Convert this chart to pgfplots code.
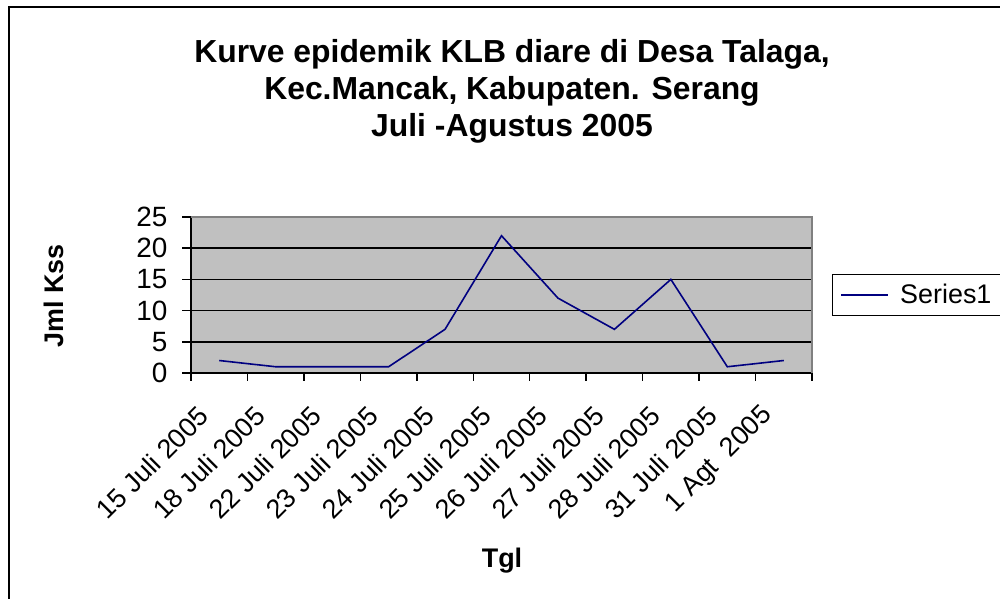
\documentclass[border=0pt]{standalone}
\usepackage{fontspec}
\setmainfont{Liberation Sans}
\usepackage{pgfplots}
\pgfplotsset{compat=1.18}
\definecolor{plotbg}{HTML}{C0C0C0}
\definecolor{navyline}{HTML}{000080}
\definecolor{bordergray}{HTML}{808080}
\begin{document}
\begin{tikzpicture}
\useasboundingbox (0,0) rectangle (1000bp,599bp);
\clip (0,0) rectangle (1000bp,599bp);
\fill[white] (0,0) rectangle (1000bp,599bp);
\draw[line width=2bp] (9bp,-5bp) -- (9bp,592bp) -- (1010bp,592bp);
\node[anchor=base, font=\fontsize{32}{32}\selectfont\bfseries, inner sep=0pt] at (512bp,536bp) {Kurve epidemik KLB diare di Desa Talaga,};
\node[anchor=base, font=\fontsize{32}{32}\selectfont\bfseries, inner sep=0pt] at (512bp,499bp) {Kec.Mancak, Kabupaten. Serang};
\node[anchor=base, font=\fontsize{32}{32}\selectfont\bfseries, inner sep=0pt] at (512bp,462bp) {Juli -Agustus 2005};
\node[anchor=base, rotate=90, font=\fontsize{27}{27}\selectfont\bfseries, inner sep=0pt] at (63bp,303bp) {Jml Kss};
\node[anchor=base, font=\fontsize{27}{27}\selectfont\bfseries, inner sep=0pt] at (502bp,32bp) {Tgl};
\begin{axis}[
  at={(191bp,226bp)}, anchor=south west,
  scale only axis, width=621bp, height=156bp,
  xmin=0, xmax=11, ymin=0, ymax=25,
  xtick={0.5,1.5,...,10.5},
  xticklabels={15 Juli 2005,18 Juli 2005,22 Juli 2005,23 Juli 2005,24 Juli 2005,25 Juli 2005,26 Juli 2005,27 Juli 2005,28 Juli 2005,31 Juli 2005,1 Agt\ \ 2005},
  minor xtick={0,1,...,11},
  ytick={0,5,...,25},
  xtick pos=bottom, ytick pos=left,
  tick align=outside,
  major tick length=9bp, minor tick length=8bp,
  major x tick style={draw=none},
  tick style={black, line width=1.5bp},
  ymajorgrids, grid style={black, line width=1.5bp},
  axis line style={black, line width=1.5bp},
  axis background/.style={fill=plotbg},
  clip=false,
  /pgf/number format/assume math mode=true,
  yticklabel style={font=\fontsize{28}{28}\selectfont, xshift=-11bp},
  xticklabel style={font=\fontsize{27}{27}\selectfont, xshift=-13bp, yshift=-27bp, rotate=45, anchor=east},
  legend style={at={(axis description cs:1.032,0.5)}, anchor=west, draw=black, line width=1.5bp,
    font=\fontsize{27}{27}\selectfont, inner xsep=8bp, inner ysep=8bp,
    nodes={text width=110bp, inner xsep=3bp}},
  legend image code/.code={\draw[#1] (0bp,0bp) -- (47bp,0bp); \path (55bp,0bp);},
]
\addplot[navyline, line width=1.6bp] coordinates {(0.5,2)(1.5,1)(2.5,1)(3.5,1)(4.5,7)(5.5,22)(6.5,12)(7.5,7)(8.5,15)(9.5,1)(10.5,2)};
\addlegendentry{Series1}
\draw[bordergray, line width=1.5bp] (axis cs:0,25) -- (axis cs:11,25) -- (axis cs:11,0);
\end{axis}
\end{tikzpicture}
\end{document}
